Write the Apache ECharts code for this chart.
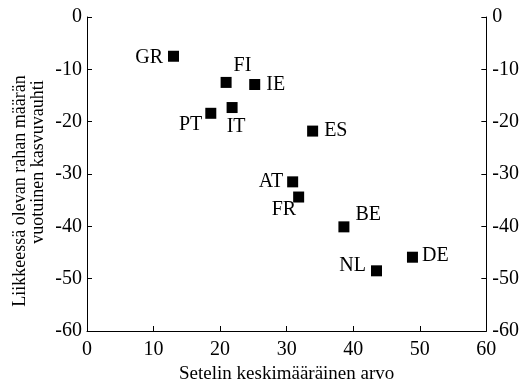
<!DOCTYPE html>
<html>
<head>
<meta charset="utf-8">
<script src="https://cdn.jsdelivr.net/npm/echarts@6/dist/echarts.min.js"></script>
<style>
  html, body { margin: 0; padding: 0; background: #fff; }
  #chart { width: 522px; height: 389px; }
</style>
</head>
<body>
<div id="chart"></div>
<script>
// Euro area countries: average banknote value vs. annual growth of currency in circulation
var countries = ['GR', 'FI', 'IE', 'PT', 'IT', 'ES', 'AT', 'FR', 'BE', 'NL', 'DE'];
var avgNoteValue = [13.0, 20.9, 25.2, 18.6, 21.8, 33.9, 30.9, 31.8, 38.6, 43.5, 48.9];
var growthRate = [-7.5, -12.5, -12.9, -18.4, -17.3, -21.8, -31.5, -34.4, -40.1, -48.5, -45.9];
var xTicks = [0, 10, 20, 30, 40, 50, 60];
var yTicks = [0, -10, -20, -30, -40, -50, -60];

var FONT = 'Liberation Serif, Times New Roman, serif';
var SIZE = 20;

// where each country code sits relative to its marker
var labelPlacement = {
  GR: { position: 'left', distance: 5, offset: [0, 1] },
  FI: { position: 'right', distance: 5, offset: [-3, -17] },
  IE: { position: 'right', distance: 6, offset: [0, 0] },
  PT: { position: 'left', distance: 3, offset: [0, 11] },
  IT: { position: 'bottom', distance: 4, offset: [4, 0] },
  ES: { position: 'right', distance: 6, offset: [0, 0] },
  AT: { position: 'left', distance: 4, offset: [0, 0] },
  FR: { position: 'left', distance: 5, offset: [8, 13] },
  BE: { position: 'right', distance: 5, offset: [1, -12] },
  NL: { position: 'left', distance: 5, offset: [0, -5] },
  DE: { position: 'right', distance: 4, offset: [0, -1] }
};

var points = countries.map(function (c, i) {
  var p = labelPlacement[c];
  return {
    name: c,
    value: [avgNoteValue[i], growthRate[i]],
    label: { show: true, formatter: c, position: p.position, distance: p.distance, offset: p.offset }
  };
});

var axisText = { color: '#000', fontFamily: FONT, fontSize: SIZE };

function yAxisDef(pos) {
  return {
    type: 'value',
    position: pos,
    min: yTicks[yTicks.length - 1],
    max: yTicks[0],
    interval: 10,
    axisLine: { show: true, onZero: false, lineStyle: { color: '#000', width: 1 } },
    axisTick: { show: true, inside: true, length: 5, lineStyle: { color: '#000' } },
    axisLabel: Object.assign({ margin: pos === 'left' ? 5 : 6 }, axisText),
    splitLine: { show: false }
  };
}

var chart = echarts.init(document.getElementById('chart'), null, { renderer: 'canvas' });
chart.setOption({
  animation: false,
  backgroundColor: '#fff',
  grid: { left: 87, right: 35, top: 17, bottom: 53 },
  xAxis: {
    type: 'value',
    min: xTicks[0],
    max: xTicks[xTicks.length - 1],
    interval: 10,
    name: 'Setelin keskimääräinen arvo',
    nameLocation: 'middle',
    nameGap: 34,
    nameTextStyle: { color: '#000', fontFamily: FONT, fontSize: 19 },
    axisLine: { show: true, onZero: false, lineStyle: { color: '#000', width: 1 } },
    axisTick: { show: true, inside: true, length: 5, lineStyle: { color: '#000' } },
    axisLabel: Object.assign({ margin: 9 }, axisText),
    splitLine: { show: false }
  },
  yAxis: [yAxisDef('left'), yAxisDef('right')],
  graphic: [
    {
      type: 'text', x: 20, y: 191, rotation: Math.PI / 2,
      style: { text: 'Liikkeessä olevan rahan määrän', fill: '#000', font: '18px ' + FONT, textAlign: 'center', textVerticalAlign: 'middle' }
    },
    {
      type: 'text', x: 38, y: 162, rotation: Math.PI / 2,
      style: { text: 'vuotuinen kasvuvauhti', fill: '#000', font: '18px ' + FONT, textAlign: 'center', textVerticalAlign: 'middle' }
    }
  ],
  series: [{
    type: 'scatter',
    symbol: 'rect',
    symbolSize: 11,
    itemStyle: { color: '#000', opacity: 1 },
    emphasis: { disabled: true },
    label: { color: '#000', fontFamily: FONT, fontSize: SIZE },
    data: points
  }]
});
</script>
</body>
</html>
